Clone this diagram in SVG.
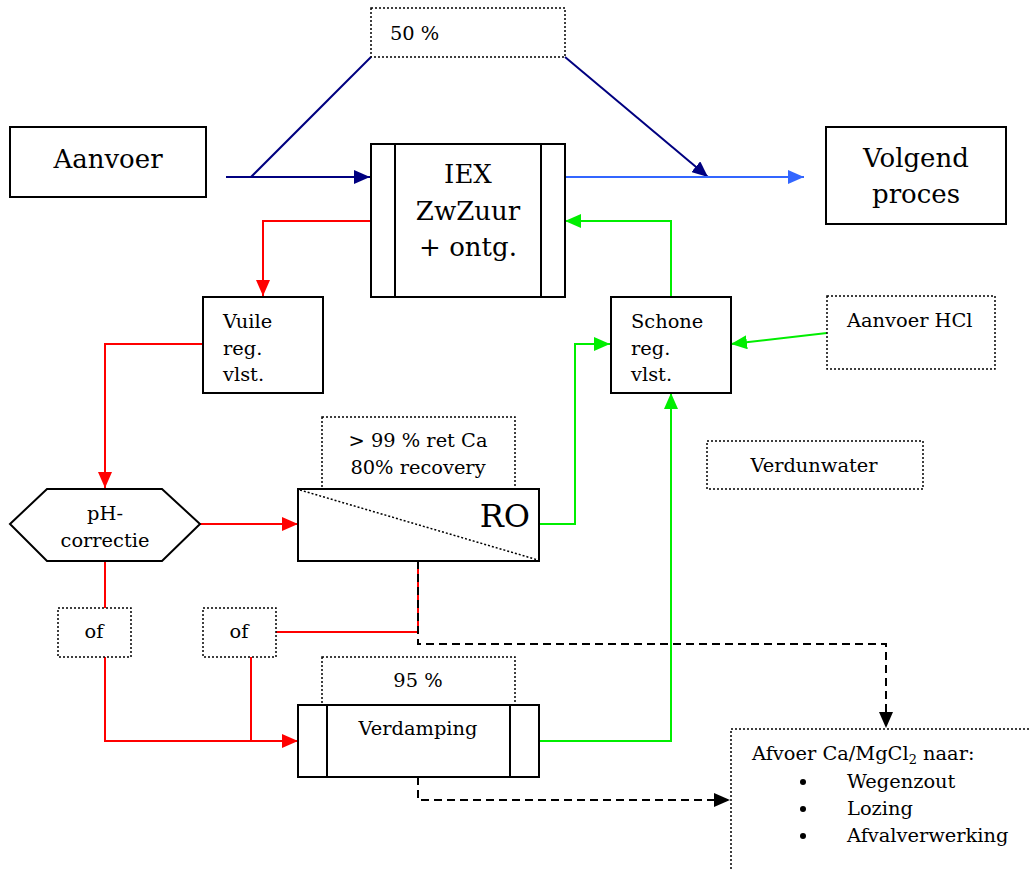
<svg xmlns="http://www.w3.org/2000/svg" width="1030" height="870" viewBox="0 0 1030 870">
<style>
text{font-family:"DejaVu Serif","Liberation Serif",serif;fill:#000}
.big{font-size:26px}
.sm{font-size:19.4px}
.box{fill:#fff;stroke:#000;stroke-width:2}
.dot{fill:#fff;stroke:#000;stroke-width:1.5;stroke-dasharray:2,2}
.c{fill:none;stroke-width:2}
.navy{stroke:#000080}
.blue{stroke:#3366ff}
.red{stroke:#ff0000}
.green{stroke:#00ee00}
.dash{stroke:#000;stroke-dasharray:8,5}
</style>
<defs>
<marker id="aNavy" markerUnits="userSpaceOnUse" markerWidth="18" markerHeight="14" refX="16" refY="7" orient="auto"><path d="M0,0L16,7L0,14z" fill="#000080"/></marker>
<marker id="aBlue" markerUnits="userSpaceOnUse" markerWidth="18" markerHeight="14" refX="16" refY="7" orient="auto"><path d="M0,0L16,7L0,14z" fill="#3366ff"/></marker>
<marker id="aRed" markerUnits="userSpaceOnUse" markerWidth="18" markerHeight="14" refX="16" refY="7" orient="auto"><path d="M0,0L16,7L0,14z" fill="#ff0000"/></marker>
<marker id="aGreen" markerUnits="userSpaceOnUse" markerWidth="18" markerHeight="14" refX="16" refY="7" orient="auto"><path d="M0,0L16,7L0,14z" fill="#00ee00"/></marker>
<marker id="aBlack" markerUnits="userSpaceOnUse" markerWidth="18" markerHeight="14" refX="16" refY="7" orient="auto"><path d="M0,0L16,7L0,14z" fill="#000"/></marker>
</defs>
<rect width="1030" height="870" fill="#fff"/>

<g id="connectors">
<path class="c navy" d="M226,177H370" marker-end="url(#aNavy)"/>
<path class="c navy" d="M251,177L371,57"/>
<path class="c navy" d="M565,57L708,177" marker-end="url(#aNavy)"/>
<path class="c blue" d="M565,177H804" marker-end="url(#aBlue)"/>
<path class="c red" d="M371,221H263V296" marker-end="url(#aRed)"/>
<path class="c red" d="M202,344H105V488" marker-end="url(#aRed)"/>
<path class="c red" d="M200,524H298" marker-end="url(#aRed)"/>
<path class="c green" d="M539,524H575V344H610" marker-end="url(#aGreen)"/>
<path class="c green" d="M671,296V221H565" marker-end="url(#aGreen)"/>
<path class="c green" d="M827,333L731,344" marker-end="url(#aGreen)"/>
<path class="c green" d="M539,741H671V393" marker-end="url(#aGreen)"/>
<path class="c red" d="M105,561V608"/>
<path class="c red" d="M105,657V741H298" marker-end="url(#aRed)"/>
<path class="c red" d="M251,657V741"/>
<path class="c red" d="M276,632H418V561"/>
<path class="c dash" d="M418,561V644H886V728" marker-end="url(#aBlack)"/>
<path class="c dash" d="M418,777V800H730" marker-end="url(#aBlack)"/>
</g>

<g id="n-50pct"><rect class="dot" x="371" y="8" width="194" height="49"/><text class="sm" x="390" y="40">50 %</text></g>

<g id="n-aanvoer"><rect class="box" x="10" y="127" width="196" height="70"/><text class="big" x="108" y="168" text-anchor="middle">Aanvoer</text></g>

<g id="n-iex"><rect class="box" x="371" y="144" width="194" height="153"/><line class="box" x1="395" y1="144" x2="395" y2="297"/><line class="box" x1="541" y1="144" x2="541" y2="297"/>
<text class="big" text-anchor="middle"><tspan x="468" y="183">IEX</tspan><tspan x="468" y="220">ZwZuur</tspan><tspan x="468" y="256">+ ontg.</tspan></text></g>

<g id="n-volgend"><rect class="box" x="826" y="127" width="180" height="97"/><text class="big" text-anchor="middle"><tspan x="916" y="167">Volgend</tspan><tspan x="916" y="203">proces</tspan></text></g>

<g id="n-vuile"><rect class="box" x="203" y="297" width="120" height="96"/><text class="sm"><tspan x="223" y="328">Vuile</tspan><tspan x="223" y="355">reg.</tspan><tspan x="223" y="381">vlst.</tspan></text></g>

<g id="n-schone"><rect class="box" x="611" y="297" width="120" height="96"/><text class="sm"><tspan x="631" y="328">Schone</tspan><tspan x="631" y="355">reg.</tspan><tspan x="631" y="381">vlst.</tspan></text></g>

<g id="n-hcl"><rect class="dot" x="827" y="296" width="168" height="73"/><text class="sm" x="847" y="327">Aanvoer HCl</text></g>

<g id="n-verdunwater"><rect class="dot" x="707" y="441" width="216" height="48"/><text class="sm" x="814" y="472" text-anchor="middle">Verdunwater</text></g>

<g id="n-ph"><polygon class="box" points="10,524 47,489 162,489 200,524 162,561 47,561"/><text class="sm" text-anchor="middle"><tspan x="105" y="520">pH-</tspan><tspan x="105" y="547">correctie</tspan></text></g>

<g id="n-ret"><rect class="dot" x="322" y="417" width="193" height="72"/><text class="sm" text-anchor="middle"><tspan x="418" y="447">&gt; 99 % ret Ca</tspan><tspan x="418" y="474">80% recovery</tspan></text></g>

<g id="n-ro"><rect class="box" x="298" y="489" width="241" height="72"/><line x1="300" y1="490" x2="538" y2="560" stroke="#000" stroke-width="1.5" stroke-dasharray="2,2"/><text x="530" y="527" font-size="32" text-anchor="end">RO</text></g>

<g id="n-of1"><rect class="dot" x="58" y="608" width="73" height="49"/><text class="sm" x="94" y="638" text-anchor="middle">of</text></g>
<g id="n-of2"><rect class="dot" x="203" y="608" width="73" height="49"/><text class="sm" x="239" y="638" text-anchor="middle">of</text></g>

<g id="n-95pct"><rect class="dot" x="322" y="657" width="193" height="48"/><text class="sm" x="418" y="687" text-anchor="middle">95 %</text></g>

<g id="n-verdamping"><rect class="box" x="298" y="705" width="241" height="72"/><line class="box" x1="327" y1="705" x2="327" y2="777"/><line class="box" x1="510" y1="705" x2="510" y2="777"/><text class="sm" x="418" y="735" text-anchor="middle">Verdamping</text></g>

<g id="n-afvoer"><rect class="dot" x="731" y="729" width="310" height="160"/>
<text class="sm" x="752" y="760">Afvoer Ca/MgCl<tspan font-size="13" dy="4">2</tspan><tspan dy="-4"> naar:</tspan></text>
<circle cx="803" cy="782" r="3"/><circle cx="803" cy="809" r="3"/><circle cx="803" cy="836" r="3"/>
<text class="sm"><tspan x="847" y="788">Wegenzout</tspan><tspan x="847" y="815">Lozing</tspan><tspan x="847" y="842">Afvalverwerking</tspan></text></g>
</svg>
